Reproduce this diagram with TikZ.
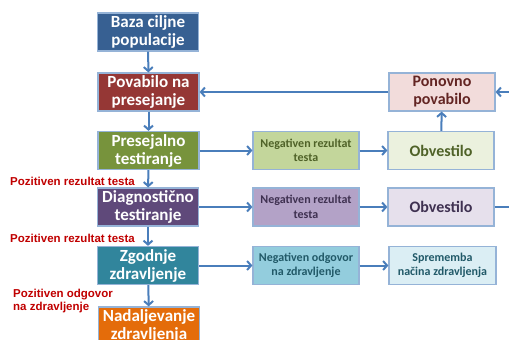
\documentclass[tikz,border=0pt]{standalone}
\usepackage{fontspec}
\setmainfont{Carlito}
\newfontfamily\labfont{Liberation Sans}
\usetikzlibrary{arrows.meta}

\definecolor{edgeblue}{HTML}{4A7EBB}
\definecolor{rimblue}{HTML}{95B3D7}
\definecolor{labred}{HTML}{C00000}

\begin{document}
\begin{tikzpicture}[x=1pt, y=-1pt,
    mainbox/.style={draw=rimblue, line width=1.2pt, minimum width=101pt, minimum height=38pt,
        align=center, text=white, font=\bfseries\fontsize{17}{18}\selectfont, inner sep=1pt},
    sidebox/.style={draw=rimblue, line width=1.2pt, minimum width=106pt, minimum height=38pt,
        align=center, font=\bfseries\fontsize{12}{14.5}\selectfont, inner sep=1pt},
    bigside/.style={sidebox, font=\bfseries\fontsize{16}{18}\selectfont},
    poslabel/.style={text=labred, font=\labfont\bfseries\fontsize{11.5}{13}\selectfont, align=left, inner sep=0pt},
    flow/.style={draw=edgeblue, line width=2pt, -{Straight Barb[length=4pt,width=9pt]}}]
    \useasboundingbox (0,0) rectangle (509,340);
    \clip (0,0) rectangle (509,340);

    % Nodes
    \node[mainbox, fill={rgb,255:red,55;green,96;blue,146}] (baza) at (148, 32) {Baza ciljne\\populacije};
    \node[mainbox, fill={rgb,255:red,149;green,55;blue,53}] (povabilo) at (148.5, 92) {Povabilo na\\presejanje};
    \node[mainbox, fill={rgb,255:red,119;green,147;blue,60}] (presejalno) at (148.5, 150.5) {Presejalno\\testiranje};
    \node[mainbox, fill={rgb,255:red,95;green,73;blue,122}] (diag) at (148, 207) {Diagnostično\\testiranje};
    \node[mainbox, fill={rgb,255:red,49;green,133;blue,156}] (zgodnje) at (148, 265.5) {Zgodnje\\zdravljenje};
    \node[mainbox, fill={rgb,255:red,228;green,108;blue,10}] (nadalj) at (149, 326) {Nadaljevanje\\zdravljenja};

    \node[sidebox, fill={rgb,255:red,195;green,214;blue,155}, text={rgb,255:red,79;green,98;blue,40}] (neggreen) at (306, 150.5) {Negativen rezultat\\testa};
    \node[bigside, fill={rgb,255:red,235;green,241;blue,222}, text={rgb,255:red,79;green,98;blue,40}] (obvgreen) at (441, 150.5) {Obvestilo};
    \node[bigside, fill={rgb,255:red,242;green,220;blue,219}, text={rgb,255:red,99;green,37;blue,35}] (ponovno) at (442, 92) {Ponovno\\povabilo};
    \node[sidebox, fill={rgb,255:red,179;green,162;blue,199}, text={rgb,255:red,63;green,49;blue,81}] (negpurple) at (306, 207) {Negativen rezultat\\testa};
    \node[bigside, fill={rgb,255:red,230;green,224;blue,236}, text={rgb,255:red,63;green,49;blue,81}] (obvpurple) at (441, 207) {Obvestilo};
    \node[sidebox, fill={rgb,255:red,147;green,205;blue,221}, text={rgb,255:red,33;green,89;blue,104}] (negodg) at (306, 265.5) {Negativen odgovor\\na zdravljenje};
    \node[sidebox, minimum width=107pt, fill={rgb,255:red,219;green,238;blue,244}, text={rgb,255:red,33;green,89;blue,104}] (sprememba) at (442.5, 265.5) {Sprememba\\načina zdravljenja};

    \coordinate (inright) at (509, 92);
    \coordinate (outright) at (509, 207);

    % Labels
    \node[poslabel, anchor=west] (pos1) at (10, 181) {Pozitiven rezultat testa};
    \node[poslabel, anchor=west] (pos2) at (10, 238) {Pozitiven rezultat testa};
    \node[poslabel, anchor=west] (pos3) at (13, 301.5) {Pozitiven odgovor\\na zdravljenje};

    % Edges
    \draw[flow] (baza) -- (povabilo);
    \draw[flow] (povabilo) -- (presejalno);
    \draw[flow] (presejalno) -- (diag);
    \draw[flow] (diag) -- (zgodnje);
    \draw[flow] (zgodnje) -- (nadalj);
    \draw[flow] (presejalno) -- (neggreen);
    \draw[flow] (neggreen) -- (obvgreen);
    \draw[flow] (obvgreen) -- (ponovno);
    \draw[flow] (ponovno) -- (povabilo);
    \draw[flow] (inright) -- (ponovno);
    \draw[flow] (diag) -- (negpurple);
    \draw[flow] (negpurple) -- (obvpurple);
    \draw[flow, -] (obvpurple) -- (outright);
    \draw[flow] (zgodnje) -- (negodg);
    \draw[flow] (negodg) -- (sprememba);
\end{tikzpicture}
\end{document}
